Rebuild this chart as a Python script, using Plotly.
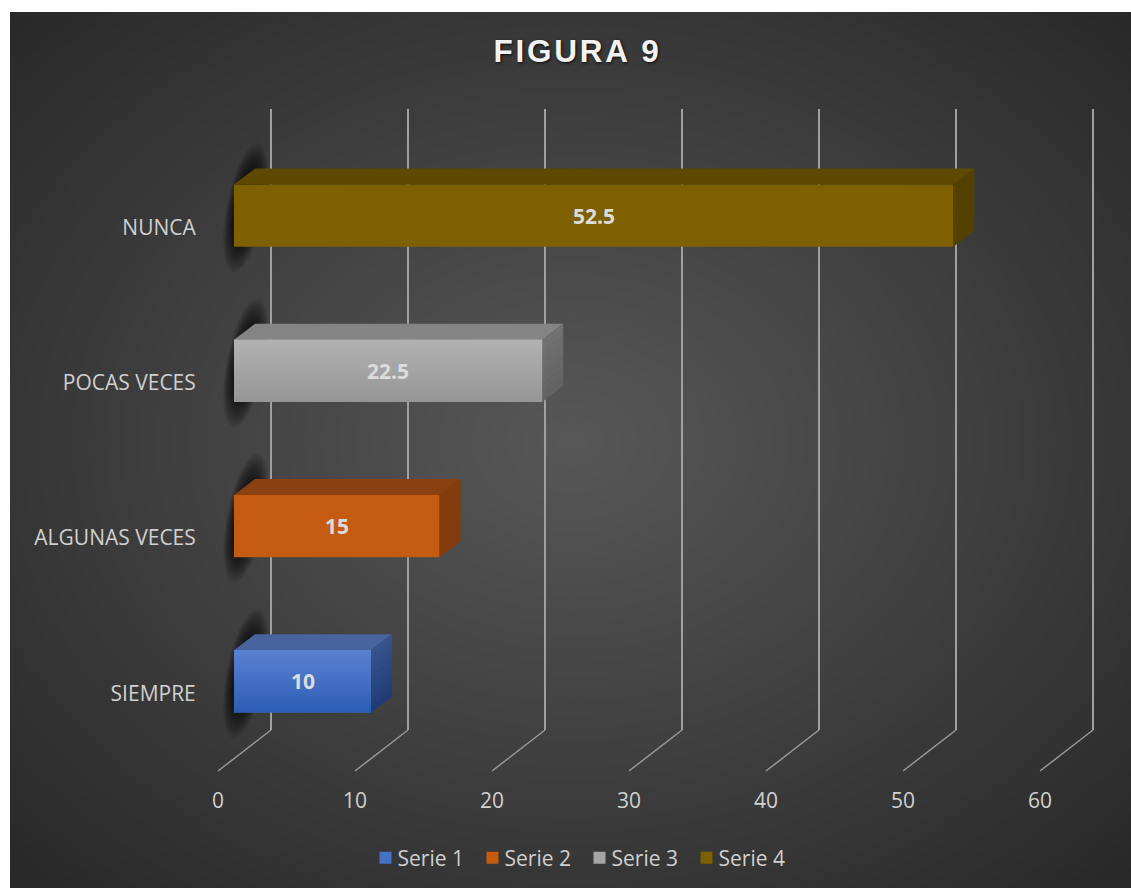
import math
import plotly.graph_objects as go

categories = ["SIEMPRE", "ALGUNAS VECES", "POCAS VECES", "NUNCA"]
series_names = ["Serie 1", "Serie 2", "Serie 3", "Serie 4"]
values = [10, 15, 22.5, 52.5]
x_ticks = [0, 10, 20, 30, 40, 50, 60]
label_text = ["10", "15", "22.5", "52.5"]

front_top = ["#5b82d2", "#c55a11", "#b2b2b2", "#7f6000"]
front_bottom = ["#2c5cb4", "#c55a11", "#959595", "#7f6000"]
legend_col = ["#4472c4", "#c55a11", "#a5a5a5", "#7f6000"]
top_face = ["#47649f", "#8a4010", "#848484", "#5f4800"]
side_top = ["#36558f", "#843c0c", "#727272", "#544000"]
side_bot = ["#1e3b78", "#843c0c", "#626262", "#544000"]

W, H = 1131, 888
PX = 13.7           # pixels per unit
LEFT_PAD = 5        # extra units left of zero on the back and bar axes
RIGHT_PAD = 0.5
DX = 21 / PX        # bar depth
BAR_W = 0.4
SLOT = 155.3
DY = 16 / SLOT
FLOOR_DX = 53 / PX


def hexrgb(c):
    return tuple(int(c[i:i + 2], 16) for i in (1, 3, 5))


def mix(a, b, t):
    a, b = hexrgb(a), hexrgb(b)
    return "rgb(%d,%d,%d)" % tuple(round(a[i] + (b[i] - a[i]) * t) for i in range(3))


def xdom(px0, units_left=0, units_right=0):
    left = px0 - units_left * PX
    right = px0 + (60 + units_right) * PX
    return [left / W, right / W]


def ydom(top, bottom):
    return [(H - bottom) / H, (H - top) / H]


def slanted_blob(cx, cy, f):
    """Closed outline of a slanted ellipse, in bar-axis units."""
    long_px, short_px = 66 * f, 19 * f
    ang = math.atan2(118, 23)
    pts = []
    for n in range(28):
        a = 2 * math.pi * n / 28
        u, w = long_px * math.cos(a), short_px * math.sin(a)
        px_x = u * math.cos(ang) - w * math.sin(ang)
        px_y = u * math.sin(ang) + w * math.cos(ang)
        pts.append((cx + px_x / PX, cy + px_y / SLOT))
    return "M " + " L ".join(f"{p[0]:.4f} {p[1]:.4f}" for p in pts) + " Z"


shapes = []
# background radial shading, drawn as nested ellipses
CX, CY = 572, 442
RX, RY = 800, 625
LEVELS = 48
for i in range(LEVELS):
    t = 1 - i / LEVELS
    g = round(0x58 - 0x30 * t)
    shapes.append(dict(type="circle", xref="paper", yref="paper", layer="below",
                       x0=(CX - RX * t) / W, x1=(CX + RX * t) / W,
                       y0=(H - CY - RY * t) / H, y1=(H - CY + RY * t) / H,
                       fillcolor=f"rgb({g},{g},{g})", line=dict(width=0)))
# white page strip left and above the chart
shapes.append(dict(type="rect", xref="paper", yref="paper", layer="below", x0=-0.01, x1=10 / W, y0=0, y1=1.01,
                   fillcolor="white", line=dict(width=0)))
shapes.append(dict(type="rect", xref="paper", yref="paper", layer="below", x0=0, x1=1.01, y0=(H - 12) / H, y1=1.01,
                   fillcolor="white", line=dict(width=0)))

# floor lines from the front plane to the back wall
for v in x_ticks:
    shapes.append(dict(type="line", xref="x", yref="paper", layer="below",
                       x0=v - FLOOR_DX, x1=v, y0=(H - 771) / H, y1=(H - 730) / H,
                       line=dict(color="#989898", width=1.5)))

for i, v in enumerate(values):
    # soft wall shadow
    RINGS = 26
    for k in range(RINGS):
        f = 1 - k / RINGS
        shapes.append(dict(type="path", xref="x3", yref="y3", layer="below",
                           path=slanted_blob(0.85, i + 8 / SLOT, f),
                           fillcolor="rgba(0,0,0,0.075)", line=dict(width=0)))
    # top face
    a, b = i + BAR_W / 2, i + BAR_W / 2 + DY
    shapes.append(dict(type="path", xref="x3", yref="y3", layer="above",
                       path=f"M 0 {a} L {DX} {b} L {v + DX} {b} L {v} {a} Z",
                       fillcolor=top_face[i], line=dict(width=0)))
    # side face, shaded in strips
    STR = 10
    for s in range(STR):
        y0 = i - BAR_W / 2 + BAR_W * s / STR
        y1 = y0 + BAR_W / STR + 0.002
        col = mix(side_bot[i], side_top[i], (s + 0.5) / STR)
        shapes.append(dict(type="path", xref="x3", yref="y3", layer="above",
                           path=f"M {v} {y0} L {v + DX} {y0 + DY} L {v + DX} {y1 + DY} L {v} {y1} Z",
                           fillcolor=col, line=dict(width=0)))
    # shading of the front face
    if front_top[i] != front_bottom[i]:
        for s in range(STR * 2):
            y0 = i - BAR_W / 2 + BAR_W * s / (STR * 2)
            y1 = y0 + BAR_W / (STR * 2) + 0.002
            col = mix(front_bottom[i], front_top[i], (s + 0.5) / (STR * 2))
            shapes.append(dict(type="rect", xref="x3", yref="y3", layer="above",
                               x0=0, x1=v, y0=y0, y1=y1, fillcolor=col, line=dict(width=0)))

annotations = [dict(xref="x3", yref="y3", x=v / 2, y=i, text=f"<b>{label_text[i]}</b>", showarrow=False,
                    font=dict(family="Open Sans", size=21, color="#dcdcdc"))
               for i, v in enumerate(values)]

fig = go.Figure()
# helper traces keep the grid and tick axes alive
fig.add_trace(go.Scatter(x=[0], y=[0], xaxis="x", yaxis="y", mode="markers", marker=dict(opacity=0),
                         showlegend=False, hoverinfo="skip"))
fig.add_trace(go.Scatter(x=[0], y=[0], xaxis="x2", yaxis="y2", mode="markers", marker=dict(opacity=0),
                         showlegend=False, hoverinfo="skip"))
for i, v in enumerate(values):
    fig.add_trace(go.Bar(x=[v], y=[categories[i]], name=series_names[i], orientation="h",
                         xaxis="x3", yaxis="y3", marker=dict(color=legend_col[i] if front_top[i] != front_bottom[i]
                                                             else front_top[i], line=dict(width=0))))

font_axis = dict(family="Open Sans", size=21, color="#d0d0d0")
fig.update_layout(
    width=W, height=H, autosize=False,
    margin=dict(l=0, r=0, t=0, b=0, autoexpand=False),
    paper_bgcolor="#2a2a2a", plot_bgcolor="rgba(0,0,0,0)",
    barmode="overlay", bargap=0.6,
    shapes=shapes, annotations=annotations,
    title=dict(text="<b>FIGURA 9</b>", x=577.5 / W, y=(H - 51) / H, xanchor="center", yanchor="middle",
               font=dict(family="Liberation Sans", size=31.5, color="#f2f2f2",
                         shadow="1px 1px 3px rgba(0,0,0,0.8)")),
    # back wall: grid only
    xaxis=dict(domain=xdom(271, LEFT_PAD, RIGHT_PAD), range=[-LEFT_PAD, 60 + RIGHT_PAD], tickmode="array",
               tickvals=x_ticks, showgrid=True, gridcolor="#a0a0a0", gridwidth=1.6, zeroline=False,
               showticklabels=False, ticks="", showline=False, anchor="y"),
    yaxis=dict(domain=ydom(109, 730), range=[0, 1], showgrid=False, zeroline=False, showticklabels=False,
               ticks="", showline=False, anchor="x"),
    # front plane: tick labels
    xaxis2=dict(domain=xdom(218), range=[0, 60], anchor="y2", tickmode="array",
                tickvals=x_ticks, showgrid=False, zeroline=False, showline=False, ticks="outside",
                ticklen=11, tickcolor="rgba(0,0,0,0)", tickfont=font_axis),
    yaxis2=dict(domain=ydom(150, 771), range=[-0.5, 3.5], anchor="x2", tickmode="array",
                tickvals=list(range(4)), ticktext=categories, showgrid=False, zeroline=False, showline=False,
                ticks="outside", ticklen=17, tickcolor="rgba(0,0,0,0)", tickfont=font_axis),
    # bar plane
    xaxis3=dict(domain=xdom(234, LEFT_PAD), range=[-LEFT_PAD, 60], anchor="y3", visible=False),
    yaxis3=dict(domain=ydom(138, 759), range=[-0.5, 3.5], anchor="x3", visible=False,
                type="category", categoryorder="array", categoryarray=categories),
    legend=dict(orientation="h", x=579.5 / W, xanchor="center", y=(H - 858) / H, yanchor="middle",
                font=dict(family="Open Sans", size=21, color="#d0d0d0"), entrywidth=62, entrywidthmode="pixels",
                bgcolor="rgba(0,0,0,0)", traceorder="normal"),
    showlegend=True,
)

post = """
document.documentElement.style.margin='0';
document.body.style.margin='0';
document.body.style.overflow='hidden';
document.querySelectorAll('.gtitle').forEach(function(t){t.style.letterSpacing='2.8px';});
document.querySelectorAll('.legendtext').forEach(function(t){t.setAttribute('x','32');});
document.querySelectorAll('.legendbar').forEach(function(t){t.setAttribute('d','M7,7H-7V-7H7Z');});
"""
fig.write_html("out.html", post_script=post, config=dict(displayModeBar=False))
